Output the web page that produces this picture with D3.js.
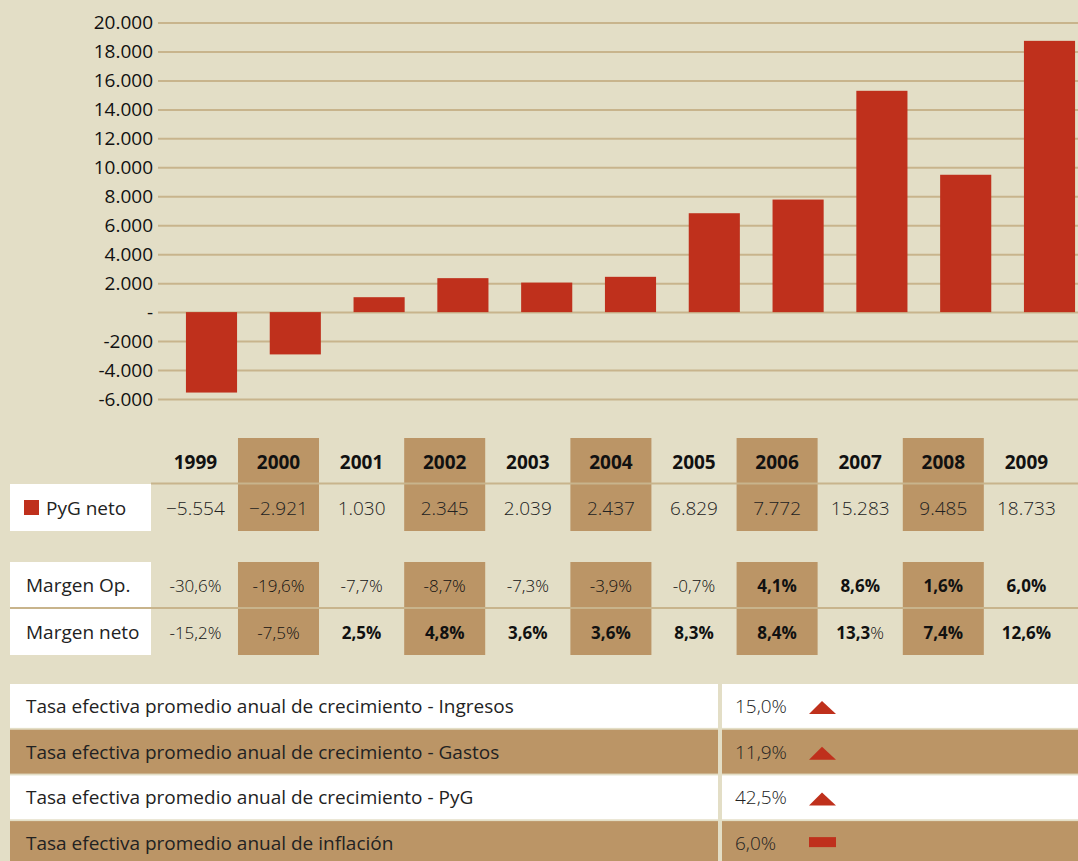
<!DOCTYPE html>
<html>
<head>
<meta charset="utf-8">
<script src="https://cdn.jsdelivr.net/npm/d3@7"></script>
<style>
  body { margin: 0; background: #e3dec6; }
  svg { display: block; font-family: "Open Sans", "Noto Sans", sans-serif; }
</style>
</head>
<body>
<svg id="chart" width="1078" height="861"></svg>
<script>
// data
const years = ['1999', '2000', '2001', '2002', '2003', '2004', '2005', '2006', '2007', '2008', '2009']
const pygNeto = [-5554, -2921, 1030, 2345, 2039, 2437, 6829, 7772, 15283, 9485, 18733]
const pygLabels = ['-5.554', '-2.921', '1.030', '2.345', '2.039', '2.437', '6.829', '7.772', '15.283', '9.485', '18.733']
const margenOp = ['-30,6%', '-19,6%', '-7,7%', '-8,7%', '-7,3%', '-3,9%', '-0,7%', '4,1%', '8,6%', '1,6%', '6,0%']
const margenNeto = ['-15,2%', '-7,5%', '2,5%', '4,8%', '3,6%', '3,6%', '8,3%', '8,4%', '13,3%', '7,4%', '12,6%']
const tickValues = [-6000, -4000, -2000, 0, 2000, 4000, 6000, 8000, 10000, 12000, 14000, 16000, 18000, 20000]
const tickLabels = ['-6.000', '-4.000', '-2000', '-', '2.000', '4.000', '6.000', '8.000', '10.000', '12.000', '14.000', '16.000', '18.000', '20.000']
const tasaNames = [
  'Tasa efectiva promedio anual de crecimiento - Ingresos',
  'Tasa efectiva promedio anual de crecimiento - Gastos',
  'Tasa efectiva promedio anual de crecimiento - PyG',
  'Tasa efectiva promedio anual de inflación'
]
const tasaValues = ['15,0%', '11,9%', '42,5%', '6,0%']
const tasaTrend = ['up', 'up', 'up', 'flat']

const RED = '#bf301c'
const BROWN = '#bb9566'
const GRID = '#c8b48c'

const svg = d3.select('#chart')

// ---- bar chart ----
const y = d3.scaleLinear().domain([-6000, 20000]).range([399, 22.5])
const x = d3.scaleBand().domain(years).range([169.6, 1091.4]).paddingInner(0.39).paddingOuter(0.195)

const yAxis = d3.axisLeft(y)
  .tickValues(tickValues)
  .tickFormat((d, i) => tickLabels[i])
  .tickSize(-920)
  .tickPadding(5)

const axisG = svg.append('g').attr('transform', 'translate(158,0)').call(yAxis)
axisG.select('.domain').remove()
axisG.selectAll('.tick line').attr('stroke', GRID).attr('stroke-width', 2)
axisG.selectAll('.tick text')
  .attr('fill', '#111')
  .attr('font-size', 19)
  .attr('font-family', '"Open Sans", sans-serif')

svg.append('g').selectAll('rect')
  .data(pygNeto)
  .enter()
  .append('rect')
  .attr('x', (d, i) => x(years[i]))
  .attr('width', x.bandwidth())
  .attr('y', d => y(Math.max(0, d)))
  .attr('height', d => Math.abs(y(d) - y(0)))
  .attr('fill', RED)

// ---- year table ----
const col = d3.scaleBand().domain(years).range([153.85, 1067.95]).paddingInner(0.025).paddingOuter(0.0125)
const cx = yr => col(yr) + col.bandwidth() / 2
const shaded = years.filter((d, i) => i % 2 === 1)

// brown cells
svg.append('g').selectAll('rect')
  .data(shaded)
  .enter()
  .append('rect')
  .attr('x', d => col(d)).attr('width', col.bandwidth())
  .attr('y', 438).attr('height', 93)
  .attr('fill', BROWN)

svg.append('g').selectAll('rect')
  .data(shaded)
  .enter()
  .append('rect')
  .attr('x', d => col(d)).attr('width', col.bandwidth())
  .attr('y', 562).attr('height', 93)
  .attr('fill', BROWN)

// white label cells
svg.append('rect').attr('x', 10).attr('y', 484).attr('width', 141).attr('height', 47).attr('fill', '#fff')
svg.append('rect').attr('x', 10).attr('y', 562).attr('width', 141).attr('height', 93).attr('fill', '#fff')

// separator lines
svg.append('line').attr('x1', 151).attr('x2', 1078).attr('y1', 483.5).attr('y2', 483.5)
  .attr('stroke', GRID).attr('stroke-width', 2)
svg.append('line').attr('x1', 10).attr('x2', 1078).attr('y1', 608).attr('y2', 608)
  .attr('stroke', GRID).attr('stroke-width', 2)

// header years
svg.append('g').selectAll('text')
  .data(years)
  .enter()
  .append('text')
  .attr('x', d => cx(d)).attr('y', 469)
  .attr('text-anchor', 'middle')
  .attr('font-size', 19).attr('font-weight', 700).attr('fill', '#111')
  .text(d => d)

// PyG row
svg.append('rect').attr('x', 24).attr('y', 500).attr('width', 15).attr('height', 15).attr('fill', RED)
svg.append('text').attr('x', 46).attr('y', 515).attr('font-size', 19).attr('fill', '#222').text('PyG neto')

svg.append('g').selectAll('text')
  .data(pygLabels)
  .enter()
  .append('text')
  .attr('x', (d, i) => cx(years[i])).attr('y', 515)
  .attr('text-anchor', 'middle')
  .attr('font-size', 19).attr('font-weight', 300).attr('fill', '#222')
  .text(d => d.replace('-', '\u2212'))

// margin rows
svg.append('text').attr('x', 26).attr('y', 592).attr('font-size', 19).attr('fill', '#222').text('Margen Op.')
svg.append('text').attr('x', 26).attr('y', 639).attr('font-size', 19).attr('fill', '#222').text('Margen neto')

const marginRow = (vals, yy) => {
  const t = svg.append('g').selectAll('text')
    .data(vals)
    .enter()
    .append('text')
    .attr('x', (d, i) => cx(years[i])).attr('y', yy)
    .attr('text-anchor', 'middle')
    .attr('font-size', 17).attr('fill', '#111')
  t.each(function (d) {
    const el = d3.select(this)
    const neg = d.startsWith('-')
    if (d === '13,3%') {
      el.append('tspan').attr('font-weight', 700).text('13,3')
      el.append('tspan').attr('font-weight', 300).text('%')
    } else {
      el.attr('font-weight', neg ? 300 : 700).text(d)
    }
  })
}
marginRow(margenOp, 592)
marginRow(margenNeto, 639)

// ---- tasa table ----
const rowY = d3.scaleBand().domain(tasaNames).range([684, 865]).paddingInner(0.04)
const rows = svg.append('g').selectAll('g')
  .data(tasaNames)
  .enter()
  .append('g')
  .attr('transform', d => `translate(0,${rowY(d)})`)

rows.append('rect').attr('x', 10).attr('width', 708).attr('height', rowY.bandwidth())
  .attr('fill', (d, i) => i % 2 ? BROWN : '#fff')
rows.append('rect').attr('x', 722).attr('width', 356).attr('height', rowY.bandwidth())
  .attr('fill', (d, i) => i % 2 ? BROWN : '#fff')
rows.append('text').attr('x', 26).attr('y', 29)
  .attr('font-size', 19).attr('fill', '#222').text(d => d)
rows.append('text').attr('x', 735).attr('y', 29)
  .attr('font-size', 19).attr('font-weight', 300).attr('fill', '#222').text((d, i) => tasaValues[i])

rows.each(function (d, i) {
  const g = d3.select(this)
  if (tasaTrend[i] === 'up') {
    g.append('path').attr('d', 'M809,30 L822,17 L836,30 Z').attr('fill', RED)
  } else {
    g.append('rect').attr('x', 809).attr('y', 16).attr('width', 27).attr('height', 10).attr('fill', RED)
  }
})
</script>
</body>
</html>
